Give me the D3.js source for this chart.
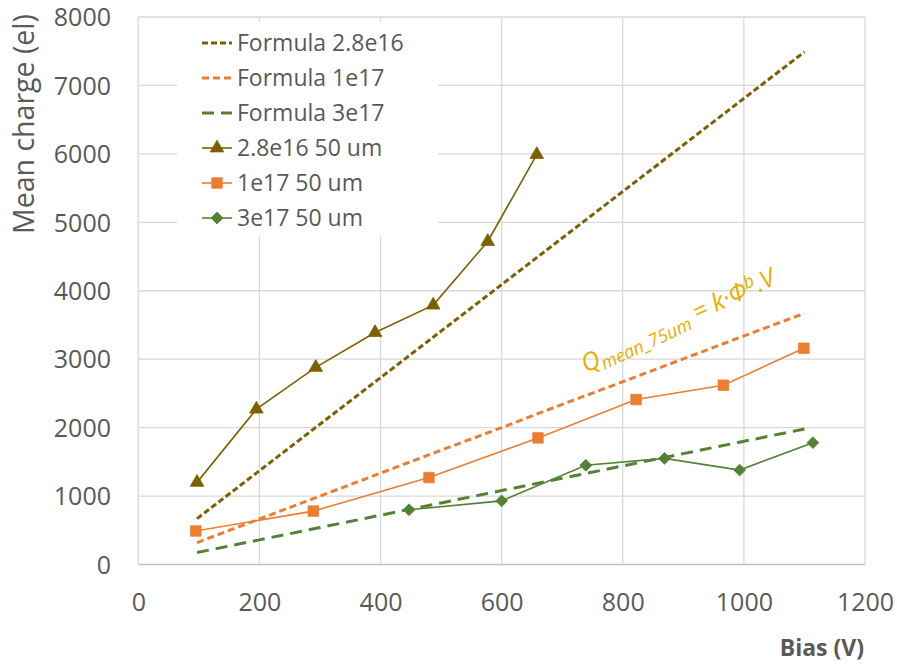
<!DOCTYPE html>
<html><head><meta charset="utf-8">
<script src="https://cdn.jsdelivr.net/npm/d3@7"></script>
<style>body{margin:0;background:#fff}svg{display:block}text{font-family:"Open Sans",sans-serif}</style>
</head><body><svg id="c" width="897" height="665"></svg>
<script>
// ---- data ----
const xTicks = [0,200,400,600,800,1000,1200];
const yTicks = [0,1000,2000,3000,4000,5000,6000,7000,8000];
const formulaBias = [97,200,300,400,500,600,700,800,900,1000,1100];
const formula28e16 = [670,1370,2050,2730,3410,4090,4770,5450,6130,6810,7490];
const formula1e17 = [320,665,1000,1335,1670,2000,2340,2670,3005,3340,3670];
const formula3e17 = [175,360,540,720,900,1080,1260,1440,1620,1800,1980];
const bias28e16 = [97,195,293,391,487,577,658];
const charge28e16 = [1200,2270,2880,3390,3790,4720,5990];
const bias1e17 = [95,289,480,660,822,966,1099];
const charge1e17 = [490,780,1270,1850,2410,2620,3160];
const bias3e17 = [447,600,739,869,993,1114];
const charge3e17 = [800,930,1450,1550,1380,1780];
const legendLabels = ["Formula 2.8e16","Formula 1e17","Formula 3e17","2.8e16 50 um","1e17 50 um","3e17 50 um"];

const C_BROWN="#7f6000", C_ORANGE="#ed7d31", C_GREEN="#548235", C_TEXT="#595959", C_GOLD="#e8ae00";

const svg = d3.select("#c");
const x = d3.scaleLinear().domain([0,1200]).range([138.3,865]);
const y = d3.scaleLinear().domain([0,8000]).range([564.5,17]);

// square diamond symbol (square rotated 45deg)
const symDiamond = {draw(ctx,size){const r=Math.sqrt(size/2);ctx.moveTo(0,-r);ctx.lineTo(r,0);ctx.lineTo(0,r);ctx.lineTo(-r,0);ctx.closePath();}};

// gridlines
const g = svg.append("g");
g.selectAll(".hg").data(yTicks).join("line")
  .attr("x1",x(0)).attr("x2",x(1200)).attr("y1",d=>y(d)).attr("y2",d=>y(d))
  .attr("stroke",d=>d===0?"#bfbfbf":"#d9d9d9").attr("stroke-width",1.3);
g.selectAll(".vg").data(xTicks).join("line")
  .attr("y1",y(0)).attr("y2",y(8000)).attr("x1",d=>x(d)).attr("x2",d=>x(d))
  .attr("stroke","#d9d9d9").attr("stroke-width",1.3);

// axes (labels only)
const fmt = d3.format("d");
const xAxis = d3.axisBottom(x).tickValues(xTicks).tickFormat(fmt).tickSize(0).tickPadding(0);
const ax = svg.append("g").attr("transform",`translate(0,${y(0)})`).call(xAxis);
ax.select(".domain").remove();
ax.selectAll("text").attr("font-size",25).attr("fill",C_TEXT).attr("font-family","Open Sans")
  .attr("y",46).attr("dy",0);
const yAxis = d3.axisLeft(y).tickValues(yTicks).tickFormat(fmt).tickSize(0).tickPadding(0);
const ay = svg.append("g").attr("transform",`translate(111,0)`).call(yAxis);
ay.select(".domain").remove();
ay.selectAll("text").attr("font-size",25).attr("fill",C_TEXT).attr("font-family","Open Sans")
  .attr("x",0).attr("dy","0.35em");

// axis titles
svg.append("text").attr("transform","translate(34,124) rotate(-90)").attr("text-anchor","middle")
  .attr("font-size",28.5).attr("fill",C_TEXT).text("Mean charge (el)");
svg.append("text").attr("x",864).attr("y",656).attr("text-anchor","end")
  .attr("font-size",23).attr("font-weight","bold").attr("fill",C_TEXT).text("Bias (V)");

// formula lines
const line = d3.line().x(d=>x(d[0])).y(d=>y(d[1]));
const formulas = [
  {v:formula28e16,c:C_BROWN,dash:"6,3"},
  {v:formula1e17,c:C_ORANGE,dash:"7,4"},
  {v:formula3e17,c:C_GREEN,dash:"12,7"}
];
formulas.forEach(f=>{
  svg.append("path").datum(formulaBias.map((b,i)=>[b,f.v[i]])).attr("d",line)
    .attr("fill","none").attr("stroke",f.c).attr("stroke-width",3).attr("stroke-dasharray",f.dash);
});

// data series
const series = [
  {b:bias28e16,v:charge28e16,c:C_BROWN,sym:d3.symbolTriangle,size:80},
  {b:bias1e17,v:charge1e17,c:C_ORANGE,sym:d3.symbolSquare,size:110},
  {b:bias3e17,v:charge3e17,c:C_GREEN,sym:symDiamond,size:70}
];
series.forEach(s=>{
  const pts = s.b.map((b,i)=>[b,s.v[i]]);
  svg.append("path").datum(pts).attr("d",line).attr("fill","none").attr("stroke",s.c).attr("stroke-width",1.6);
  svg.append("g").selectAll("path").data(pts).join("path")
    .attr("transform",d=>`translate(${x(d[0])},${y(d[1])})`)
    .attr("d",d3.symbol(s.sym,s.size)).attr("fill",s.c).attr("stroke",s.c).attr("stroke-width",0.8);
});

// annotation
const ann = svg.append("text").attr("transform","translate(586,373) rotate(-25)")
  .attr("font-size",25).attr("font-style","italic").attr("fill",C_GOLD);
ann.append("tspan").text("Q");
ann.append("tspan").attr("font-size",18).attr("dy",5).text("mean_75um");
ann.append("tspan").attr("dy",-5).text(" = k·Φ");
ann.append("tspan").attr("font-size",18).attr("dy",-8).text("b");
ann.append("tspan").attr("dy",8).text(".V");

// legend
const lg = svg.append("g");
lg.append("rect").attr("x",177).attr("y",22).attr("width",261).attr("height",214).attr("fill","#fff");
const legendItems = [
  {c:C_BROWN,dash:"6,3",sym:null},
  {c:C_ORANGE,dash:"7,4",sym:null},
  {c:C_GREEN,dash:"12,7",sym:null},
  {c:C_BROWN,dash:null,sym:d3.symbolTriangle,size:80},
  {c:C_ORANGE,dash:null,sym:d3.symbolSquare,size:110},
  {c:C_GREEN,dash:null,sym:symDiamond,size:70}
];
legendItems.forEach((it,i)=>{
  const yy = 43 + i*35;
  lg.append("line").attr("x1",202).attr("x2",232).attr("y1",yy).attr("y2",yy)
    .attr("stroke",it.c).attr("stroke-width",it.dash?3:1.6).attr("stroke-dasharray",it.dash||null);
  if(it.sym) lg.append("path").attr("transform",`translate(217,${yy})`).attr("d",d3.symbol(it.sym,it.size))
    .attr("fill",it.c).attr("stroke",it.c).attr("stroke-width",0.8);
  lg.append("text").attr("x",237).attr("y",yy).attr("dy","0.35em").attr("font-size",23)
    .attr("fill",C_TEXT).text(legendLabels[i]);
});
</script></body></html>
